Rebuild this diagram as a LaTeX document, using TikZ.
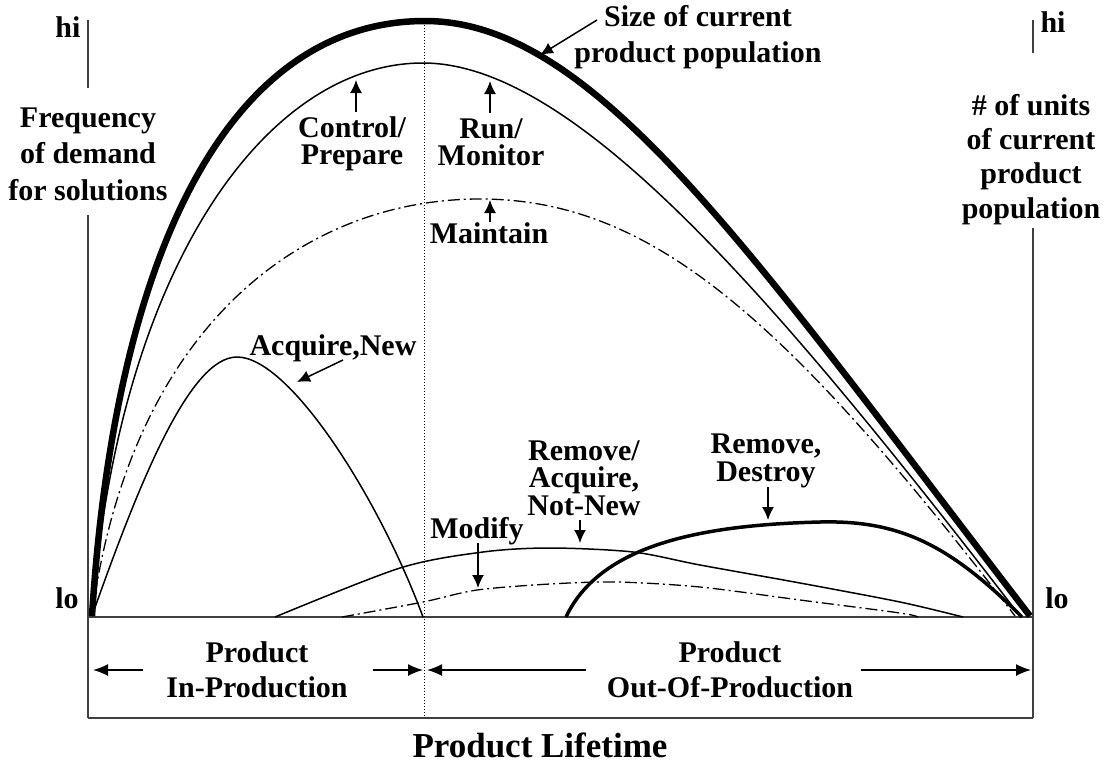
\documentclass[tikz,border=0pt]{standalone}
\usepackage{fontspec}
\setmainfont{Liberation Serif}
\usetikzlibrary{arrows.meta}
\begin{document}
\begin{tikzpicture}[x=1pt,y=-1pt,
  lbl/.style={font=\bfseries\fontsize{30}{27}\selectfont, align=center, inner sep=0pt},
  axislbl/.style={font=\bfseries\fontsize{30}{35}\selectfont, align=center, inner sep=0pt},
  axis/.style={line width=1.6pt, draw=black!75},
  bigcurve/.style={line width=6.5pt},
  thincurve/.style={line width=1.5pt},
  dashdot/.style={line width=1.3pt, dash pattern=on 12pt off 4pt on 2pt off 4pt},
  destroy/.style={line width=3.5pt},
  ptr/.style={line width=1.5pt, -{Latex[length=13pt,width=12pt]}},
  span/.style={line width=1.5pt, -{Latex[length=15pt,width=12pt]}},
]
\useasboundingbox (0,0) rectangle (1105,763);
% axes
\draw[axis] (88,20) -- (88,88);
\draw[axis] (88,215) -- (88,718);
\draw[axis] (1033,20) -- (1033,53);
\draw[axis] (1033,228) -- (1033,718);
\draw[axis] (88,617) -- (1033,617);
\draw[axis] (88,718) -- (1033,718);
\draw[dotted, line width=1pt] (424,22) -- (424,718);
% curves
\draw[bigcurve] (92,616) .. controls (115,250) and (230,21) .. (425,21)
                          .. controls (595,21) and (750,252) .. (1030,616);
\draw[thincurve] (92,616) .. controls (118,270) and (265,63) .. (423,63)
                          .. controls (573,63) and (770,291) .. (1020,616);
\draw[dashdot] (92,616) .. controls (130,330) and (300,199) .. (480,199)
                        .. controls (650,199) and (785,317) .. (1015,616);
\draw[thincurve] (92,616) .. controls (140,480) and (190,357) .. (237,357)
                          .. controls (290,357) and (380,500) .. (423,617);
\draw[thincurve] plot[smooth] coordinates {(275,617) (400,568) (483,552) (550,548) (633,552) (700,565) (800,583) (900,602) (963,617)};
\draw[dashdot] plot[smooth] coordinates {(342,617) (423,602) (477,590) (550,584) (617,582) (700,587) (800,600) (900,613) (918,617)};
\draw[destroy] (566,617) .. controls (600,545) and (700,525) .. (820,522)
                         .. controls (900,520) and (950,545) .. (1022,617);
% labels
\node[axislbl, anchor=base] (hiL) at (68,37) {hi};
\node[axislbl, anchor=base, font=\bfseries\fontsize{30}{36.5}\selectfont] (freq) at (88,200) {Frequency\\of demand\\for solutions};
\node[axislbl, anchor=base] (hiR) at (1053,32) {hi};
\node[axislbl, anchor=base, font=\bfseries\fontsize{30}{34.3}\selectfont] (units) at (1031,218) {\# of units\\of current\\product\\population};
\node[axislbl, anchor=base] (loL) at (67,608) {lo};
\node[axislbl, anchor=base] (loR) at (1057,608) {lo};
\node[axislbl, anchor=base, font=\bfseries\fontsize{30}{36}\selectfont] (size) at (698,62) {Size of current\\product population};
\node[lbl, anchor=base] (ctrl) at (352,164) {Control/\\Prepare};
\node[lbl, anchor=base] (run) at (491,165) {Run/\\Monitor};
\node[lbl, anchor=base] (maint) at (489,243) {Maintain};
\node[lbl, anchor=base] (acq) at (333,355) {Acquire,New};
\node[lbl, anchor=base] (modify) at (477,538) {Modify};
\node[lbl, anchor=base, font=\bfseries\fontsize{30}{27.5}\selectfont] (remacq) at (584,515) {Remove/\\Acquire,\\Not-New};
\node[lbl, anchor=base, font=\bfseries\fontsize{30}{27.5}\selectfont] (remdes) at (766,481) {Remove,\\Destroy};
\node[axislbl, anchor=base] (prodIn) at (257,697) {Product\\In-Production};
\node[axislbl, anchor=base] (prodOut) at (730,697) {Product\\Out-Of-Production};
\node[font=\bfseries\fontsize{35}{40}\selectfont, inner sep=0pt, anchor=base] (life) at (540,757) {Product Lifetime};
% label pointers
\coordinate (sizeT) at (597,20); \coordinate (sizeH) at (540,55);
\coordinate (ctrlT) at (356,112); \coordinate (ctrlH) at (356,80);
\coordinate (runT) at (490,113); \coordinate (runH) at (490,81);
\coordinate (maintT) at (490,222); \coordinate (maintH) at (490,200);
\coordinate (acqT) at (343,360); \coordinate (acqH) at (297,382);
\coordinate (modT) at (478,543); \coordinate (modH) at (478,588);
\coordinate (raT) at (580,520); \coordinate (raH) at (580,543);
\coordinate (rdT) at (768,487); \coordinate (rdH) at (768,520);
\draw[ptr] (sizeT) -- (sizeH);
\draw[ptr] (ctrlT) -- (ctrlH);
\draw[ptr] (runT) -- (runH);
\draw[ptr] (maintT) -- (maintH);
\draw[ptr] (acqT) -- (acqH);
\draw[ptr] (modT) -- (modH);
\draw[ptr] (raT) -- (raH);
\draw[ptr] (rdT) -- (rdH);
% spans
\coordinate (s1a) at (143,670); \coordinate (s1b) at (93,670);
\coordinate (s2a) at (373,670); \coordinate (s2b) at (423,670);
\coordinate (s3a) at (586,670); \coordinate (s3b) at (427,670);
\coordinate (s4a) at (861,670); \coordinate (s4b) at (1031,670);
\draw[span] (s1a) -- (s1b);
\draw[span] (s2a) -- (s2b);
\draw[span] (s3a) -- (s3b);
\draw[span] (s4a) -- (s4b);
\end{tikzpicture}
\end{document}
